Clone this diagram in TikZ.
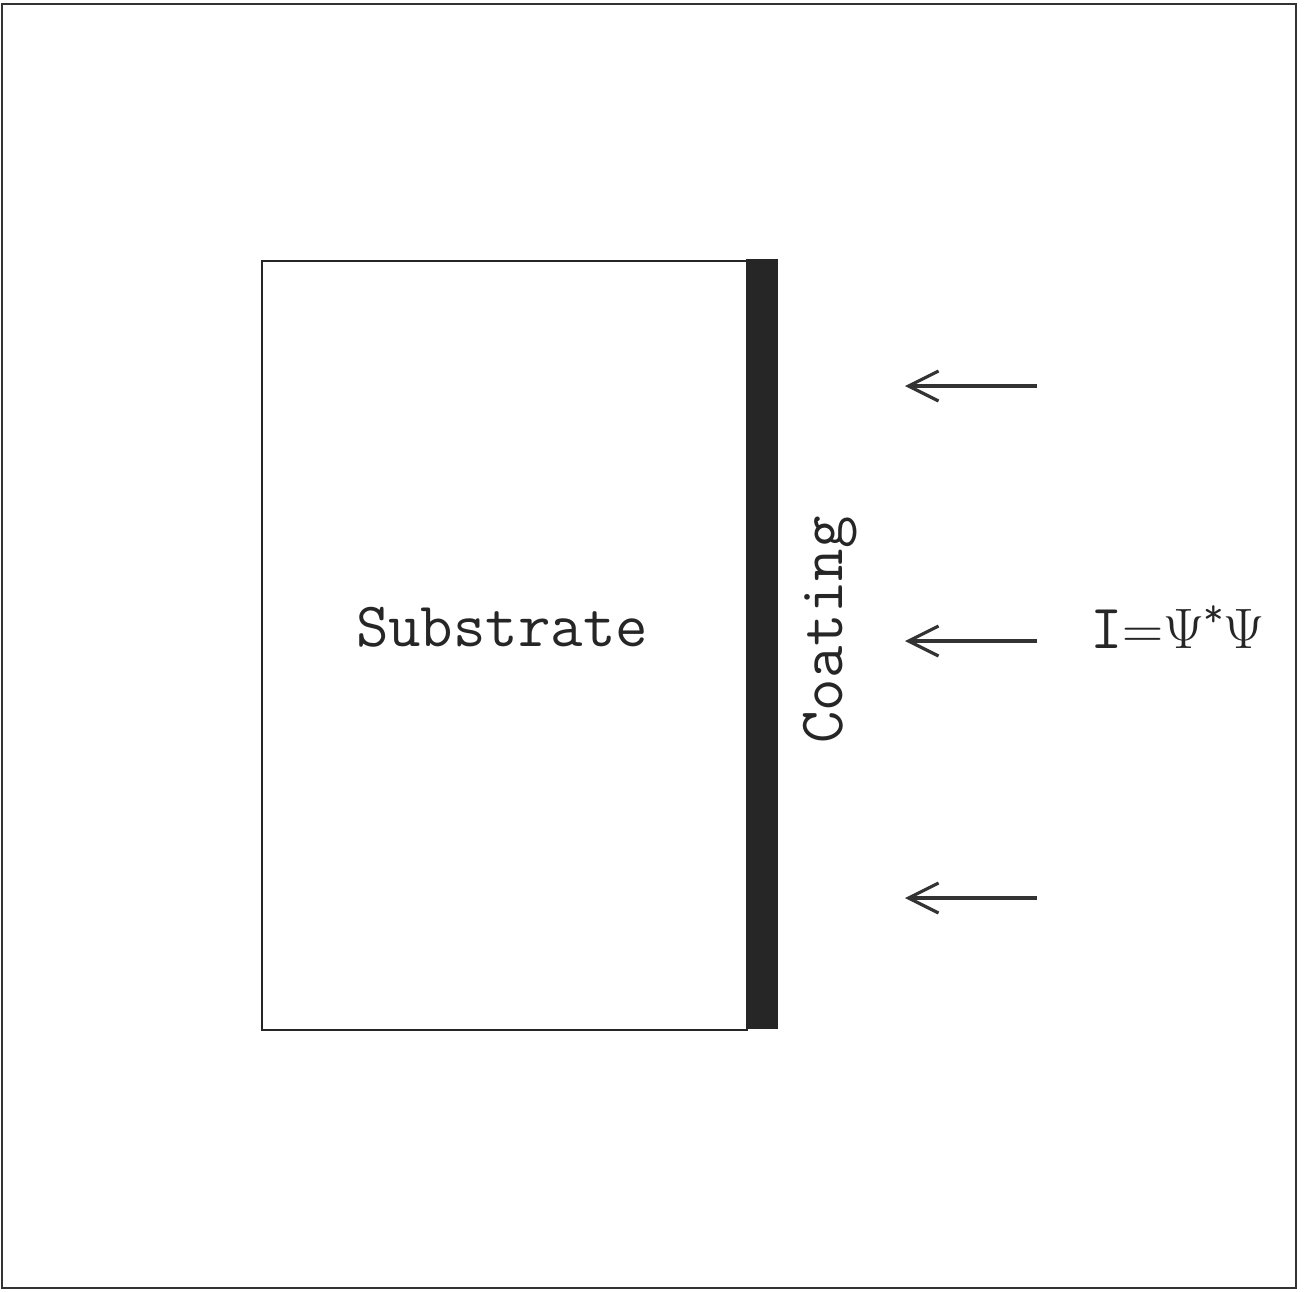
\documentclass[tikz,border=0pt]{standalone}
\usepackage{fontspec}
\usetikzlibrary{arrows.meta}
\begin{document}
\begin{tikzpicture}[x=1pt,y=-1pt,
  frame/.style={draw=black!80,line width=2pt},
  box/.style={draw=black!85,line width=2pt,fill=white},
  coat/.style={fill=black!85,draw=black!85,line width=1pt},
  ray/.style={draw=black!80,line width=3.2pt,-{Straight Barb[length=30pt,width=30pt,line width=3.2pt]}},
  lbl/.style={font=\fontsize{63}{70}\selectfont\ttfamily,text=black!85,inner sep=0pt}]
\useasboundingbox (0,0) rectangle (1309,1291);
\draw[frame] (2,4) rectangle (1296,1288);
\draw[box] (262,261) rectangle (747,1030);
\draw[coat] (746,259) rectangle (777,1028);
\node[lbl] (sub) at (502,627) {Substrate};
\node[lbl,rotate=90] (coating) at (830,630) {Coating};
\node[lbl,anchor=west] (psi) at (1090,627) {I{\rmfamily\fontsize{57}{60}\selectfont =Ψ\kern-1pt\raisebox{0.4em}{\ttfamily\fontsize{40}{40}\selectfont *}\kern-1ptΨ}};
\coordinate (s1) at (1037,386); \coordinate (e1) at (905,386);
\coordinate (s2) at (1037,641); \coordinate (e2) at (905,641);
\coordinate (s3) at (1037,898); \coordinate (e3) at (905,898);
\draw[ray] (s1) -- (e1);
\draw[ray] (s2) -- (e2);
\draw[ray] (s3) -- (e3);
\end{tikzpicture}
\end{document}
